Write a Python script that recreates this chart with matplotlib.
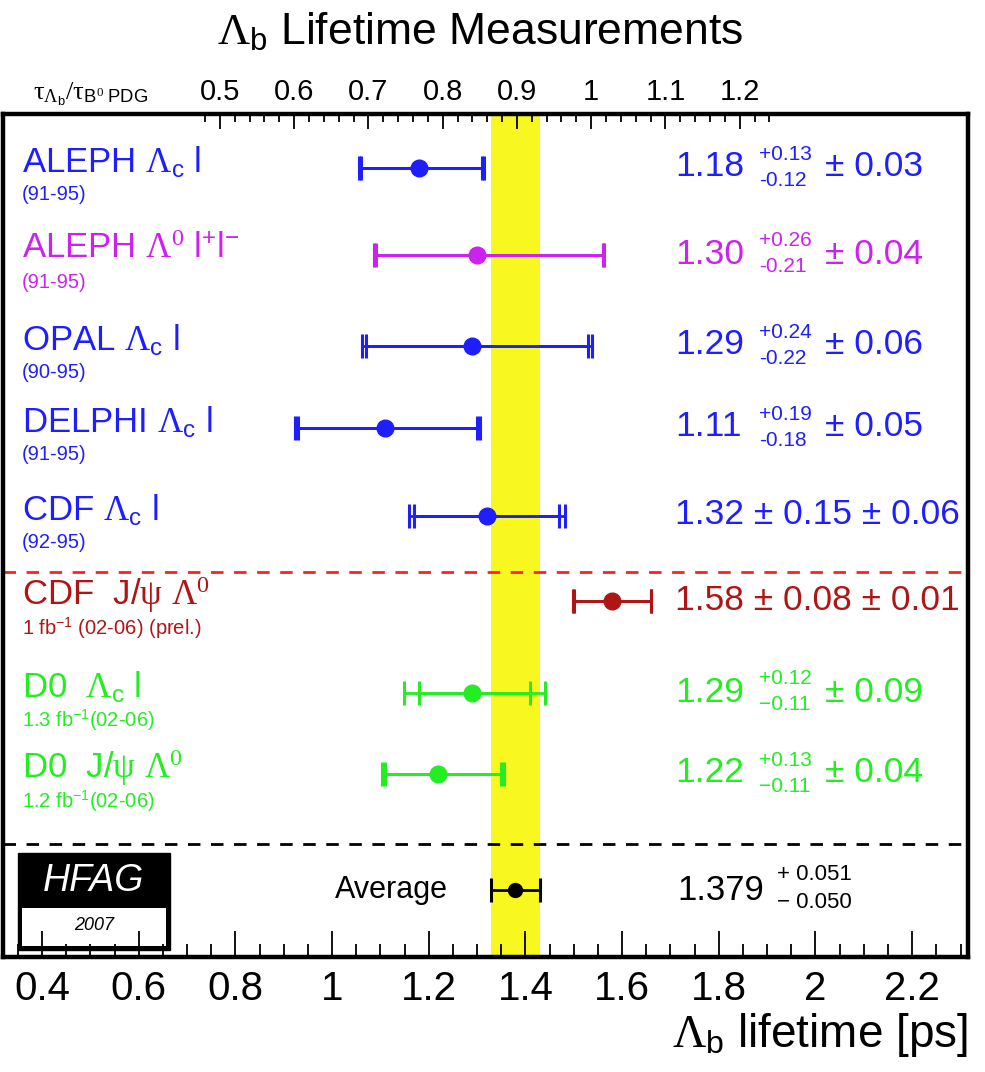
import numpy as np
import matplotlib
matplotlib.use('Agg')
import matplotlib.pyplot as plt
from matplotlib.patches import Rectangle
import matplotlib.transforms as mtransforms

plt.rcParams['font.family'] = ['Liberation Sans', 'DejaVu Sans']
plt.rcParams['mathtext.fontset'] = 'custom'
plt.rcParams['mathtext.rm'] = 'Liberation Serif'
plt.rcParams['mathtext.it'] = 'Liberation Serif:italic'
plt.rcParams['mathtext.sf'] = 'Liberation Sans'
plt.rcParams['axes.unicode_minus'] = True

# measurements
labels = [r'ALEPH $\Lambda_{\mathsf{c}}$ l',
          r'ALEPH $\Lambda^{0}$ l$^{\mathsf{+}}$l$^{\mathsf{-}}$',
          r'OPAL $\Lambda_{\mathsf{c}}$ l',
          r'DELPHI $\Lambda_{\mathsf{c}}$ l',
          r'CDF $\Lambda_{\mathsf{c}}$ l',
          r'CDF  J/$\mathrm{\psi}$ $\Lambda^{0}$',
          r'D0  $\Lambda_{\mathsf{c}}$ l',
          r'D0  J/$\mathrm{\psi}$ $\Lambda^{0}$']
sublabels = ['(91-95)', '(91-95)', '(90-95)', '(91-95)', '(92-95)',
             r'1 fb$^{\mathsf{-1}}$ (02-06) (prel.)',
             r'1.3 fb$^{\mathsf{-1}}$(02-06)',
             r'1.2 fb$^{\mathsf{-1}}$(02-06)']
values = [1.18, 1.30, 1.29, 1.11, 1.32, 1.58, 1.29, 1.22]
stat_hi = [0.13, 0.26, 0.24, 0.19, 0.15, 0.08, 0.12, 0.13]
stat_lo = [0.12, 0.21, 0.22, 0.18, 0.15, 0.08, 0.11, 0.11]
syst = [0.03, 0.04, 0.06, 0.05, 0.06, 0.01, 0.09, 0.04]
sym_err = [False, False, False, False, True, True, False, False]
colors = ['#1e1eff', '#cc22ee', '#1e1eff', '#1e1eff', '#1e1eff',
          '#b01515', '#22ee22', '#22ee22']

avg_val = 1.379
avg_hi = 0.051
avg_lo = 0.050
tau_b0 = 1.536  # B0 lifetime used for the top scale

# layout (vertical positions, in figure pixel rows)
ypos = [168, 255, 346, 428, 516, 601, 693, 774]
avg_y = 890
red_line_y = 572
black_line_y = 844

fig = plt.figure(figsize=(9.85, 10.72), dpi=100)
ax = fig.add_axes([3 / 985, 1 - 957 / 1072, 965 / 985, (957 - 114) / 1072])
ax.set_xlim(0.3193, 2.3155)
ax.set_ylim(957, 114)

# average band
ax.axvspan(avg_val - avg_lo, avg_val + avg_hi, color='#f8f820', zorder=0, lw=0)

for v, y, sh, sl, sy, c in zip(values, ypos, stat_hi, stat_lo, syst, colors):
    th = np.hypot(sh, sy)
    tl = np.hypot(sl, sy)
    ax.errorbar(v, y, xerr=[[tl], [th]], fmt='none', ecolor=c, elinewidth=2,
                capsize=8.5, capthick=2.2, zorder=3)
    ax.errorbar(v, y, xerr=[[sl], [sh]], fmt='o', color=c, ms=12, elinewidth=2,
                capsize=8.5, capthick=2.2, zorder=4)

ax.errorbar(avg_val, avg_y, xerr=[[avg_lo], [avg_hi]], fmt='o', color='black',
            ms=10, elinewidth=2, capsize=8.5, capthick=2.2, zorder=4)

ax.axhline(red_line_y, color='#ff2020', lw=2, ls=(0, (4.5, 3.8)), zorder=2)
ax.axhline(black_line_y, color='black', lw=2, ls=(0, (4.5, 3.8)), zorder=2)

# text columns
def px(x):
    return (x - 3) / 965

tr = mtransforms.blended_transform_factory(ax.transAxes, ax.transData)
for i, y in enumerate(ypos):
    c = colors[i]
    ax.text(px(22), y - 6, labels[i], color=c, fontsize=25, va='center', ha='left', transform=tr)
    ax.text(px(22), y + 27, sublabels[i], color=c, fontsize=14.5, va='center', ha='left', transform=tr)
    if sym_err[i]:
        ax.text(px(675), y - 1, '%.2f ± %.2f ± %.2f' % (values[i], stat_hi[i], syst[i]),
                color=c, fontsize=25.5, va='center', ha='left', transform=tr)
    else:
        minus = '−' if i >= 6 else '-'
        ax.text(px(675), y - 1, '%.2f' % values[i], color=c, fontsize=25.5,
                va='center', ha='left', transform=tr)
        ax.text(px(759), y - 14, '+%.2f' % stat_hi[i], color=c, fontsize=15,
                va='center', ha='left', transform=tr)
        ax.text(px(759), y + 12, minus + '%.2f' % stat_lo[i], color=c, fontsize=15,
                va='center', ha='left', transform=tr)
        ax.text(px(825), y - 1, '± %.2f' % syst[i], color=c, fontsize=25.5,
                va='center', ha='left', transform=tr)

ax.text(px(448), avg_y, 'Average', fontsize=22, va='center', ha='right', transform=tr)
ax.text(px(677), avg_y, '%.3f' % avg_val, fontsize=25, va='center', ha='left', transform=tr)
ax.text(px(777), avg_y - 15, '+ %.3f' % avg_hi, fontsize=16, va='center', ha='left', transform=tr)
ax.text(px(777), avg_y + 13, '− %.3f' % avg_lo, fontsize=16, va='center', ha='left', transform=tr)

# HFAG logo
ax.add_patch(Rectangle((px(18), 1 - (950 - 114) / 843), px(170) - px(18), (950 - 853) / 843,
                       transform=ax.transAxes, facecolor='black', edgecolor='black', zorder=1))
ax.add_patch(Rectangle((px(22), 1 - (946 - 114) / 843), px(166) - px(22), (946 - 908) / 843,
                       transform=ax.transAxes, facecolor='white', edgecolor='none', zorder=1))
ax.text(px(94), 1 - (881 - 114) / 843, 'HFAG', color='white', fontsize=27, style='italic',
        ha='center', va='center', transform=ax.transAxes)
ax.text(px(94), 1 - (926 - 114) / 843, '2007', color='black', fontsize=13, style='italic',
        ha='center', va='center', transform=ax.transAxes)

# axes style
for s in ax.spines.values():
    s.set_linewidth(3.2)
ax.set_yticks([])
ax.set_xticks(np.arange(0.4, 2.31, 0.2))
ax.set_xticklabels(['0.4', '0.6', '0.8', '1', '1.2', '1.4', '1.6', '1.8', '2', '2.2'])
ax.set_xticks(np.arange(0.35, 2.31, 0.05), minor=True)
ax.tick_params(axis='x', which='major', direction='in', length=19, width=1.3,
               labelsize=29, pad=9, top=False)
ax.tick_params(axis='x', which='minor', direction='in', length=9.5, width=1.3, top=False)

sec = ax.secondary_xaxis('top', functions=(lambda x: x / tau_b0, lambda r: r * tau_b0))
sec.set_xticks(np.arange(0.5, 1.21, 0.1))
sec.set_xticklabels(['0.5', '0.6', '0.7', '0.8', '0.9', '1', '1.1', '1.2'])
sec.set_xticks(np.arange(0.48, 1.25, 0.02), minor=True)
sec.tick_params(axis='x', which='major', direction='in', length=11, width=1.3,
                labelsize=21, pad=6)
sec.tick_params(axis='x', which='minor', direction='in', length=6, width=1.3)
sec.spines['top'].set_visible(False)

fig.text(480 / 985, 1 - 32 / 1072, r'$\Lambda_{\mathsf{b}}$ Lifetime Measurements',
         fontsize=32, ha='center', va='center')
fig.text(33 / 985, 1 - 94 / 1072,
         r'$\mathrm{\tau}_{\Lambda_{\mathsf{b}}}/\mathrm{\tau}_{\mathsf{B}^{0}\ \mathsf{PDG}}$',
         fontsize=19, ha='left', va='center')
fig.text(968 / 985, 1 - 1035 / 1072, r'$\Lambda_{\mathsf{b}}$ lifetime [ps]',
         fontsize=33, ha='right', va='center')

fig.savefig('out.png', dpi=100)
